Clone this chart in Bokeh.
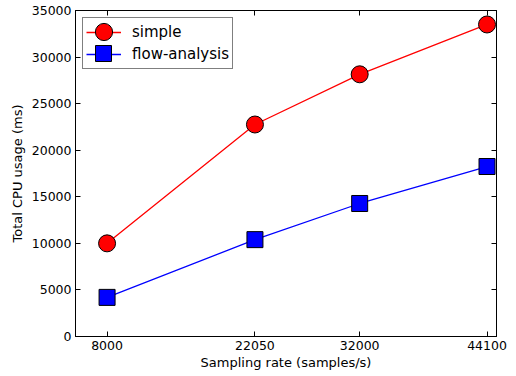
from bokeh.plotting import figure
from bokeh.models import (Range1d, FixedTicker, LinearAxis, Legend, LegendItem)
from bokeh.core.properties import value
from bokeh.embed import file_html
from bokeh.resources import INLINE

rates = [8000, 22050, 32000, 44100]
simple = [10000, 22760, 28150, 33500]
flow_analysis = [4200, 10400, 14280, 18250]
x_ticks = [8000, 22050, 32000, 44100]
y_ticks = [0, 5000, 10000, 15000, 20000, 25000, 30000, 35000]
series_labels = ["simple", "flow-analysis"]

FONT = "DejaVu Sans"

p = figure(width=516, height=376, output_backend="svg", toolbar_location=None,
           x_range=Range1d(5000, 45000), y_range=Range1d(0, 35000),
           min_border_left=75, min_border_right=20, min_border_top=10,
           min_border_bottom=40)
p.grid.visible = False
p.outline_line_color = "black"
p.outline_line_width = 1
p.background_fill_color = "white"
p.border_fill_color = "white"

for ax in (p.xaxis[0], p.yaxis[0]):
    ax.major_tick_in = 5
    ax.major_tick_out = 0
    ax.minor_tick_line_color = None
    ax.axis_line_color = "black"
    ax.major_label_text_font = FONT
    ax.major_label_text_font_size = "12.5px"
    ax.major_label_text_color = "black"
    ax.axis_label_text_font = FONT
    ax.axis_label_text_font_size = "13px"
    ax.axis_label_text_font_style = "normal"
    ax.axis_label_text_color = "black"

p.xaxis.ticker = FixedTicker(ticks=x_ticks)
p.yaxis.ticker = FixedTicker(ticks=y_ticks)
p.xaxis.axis_label = "Sampling rate (samples/s)"
p.yaxis.axis_label = "Total CPU usage (ms)"
p.xaxis.major_label_standoff = 4
p.yaxis.major_label_standoff = 4
p.xaxis.axis_label_standoff = 2
p.yaxis.axis_label_standoff = 4

top = LinearAxis(ticker=FixedTicker(ticks=x_ticks), major_tick_in=5, major_tick_out=0,
                 minor_tick_line_color=None, major_label_text_color=None,
                 major_label_text_font_size="1px", axis_line_color="black")
right = LinearAxis(ticker=FixedTicker(ticks=y_ticks), major_tick_in=5, major_tick_out=0,
                   minor_tick_line_color=None, major_label_text_color=None,
                   major_label_text_font_size="1px", axis_line_color="black")
top.major_label_standoff = 0
right.major_label_standoff = 0
p.add_layout(top, "above")
p.add_layout(right, "right")

l1 = p.line(rates, simple, line_color="red", line_width=1.3)
s1 = p.scatter(rates, simple, marker="circle", size=17, fill_color="red",
               line_color="black", line_width=1)
l2 = p.line(rates, flow_analysis, line_color="blue", line_width=1.3)
s2 = p.scatter(rates, flow_analysis, marker="square", size=16, fill_color="blue",
               line_color="black", line_width=1)

# legend box with lines and labels
legend = Legend(items=[LegendItem(label=series_labels[0], renderers=[l1]),
                       LegendItem(label=series_labels[1], renderers=[l2])],
                location="top_left")
legend.label_text_font = FONT
legend.label_text_font_size = "15px"
legend.label_text_color = "black"
legend.border_line_color = "black"
legend.border_line_width = 1
legend.glyph_width = 35
legend.glyph_height = 22
legend.label_height = 22
legend.spacing = 0
legend.padding = 3
legend.margin = 7
legend.label_standoff = 11
legend.background_fill_alpha = 1
p.add_layout(legend)


def marker_legend(renderer, glyph, loc):
    lg = Legend(items=[LegendItem(label=value(""), renderers=[renderer])], location=loc)
    lg.border_line_color = None
    lg.background_fill_color = None
    lg.glyph_width = glyph
    lg.glyph_height = glyph
    lg.label_height = 10
    lg.label_width = 0
    lg.label_standoff = 0
    lg.padding = 0
    lg.margin = 0
    lg.spacing = 0
    return lg


p.add_layout(marker_legend(s1, 43, (6.5, 283.5)))
p.add_layout(marker_legend(s2, 40, (8, 263)))

open("out.html", "w").write(file_html(p, INLINE))
